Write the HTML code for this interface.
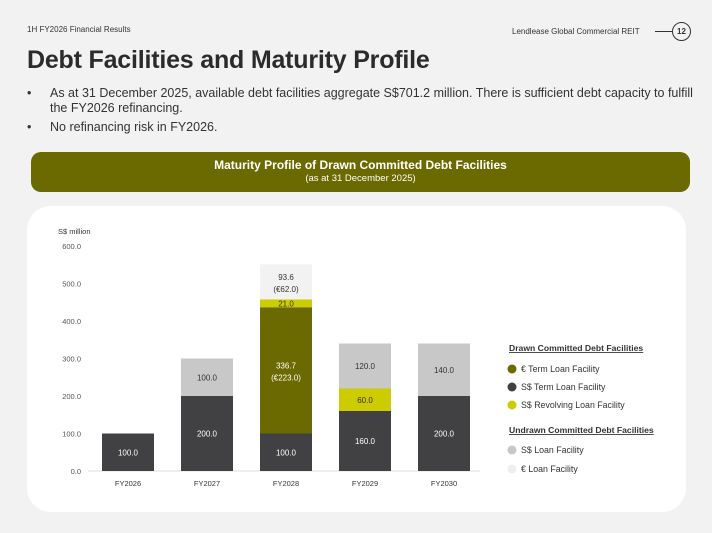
<!DOCTYPE html>
<html><head><meta charset="utf-8"><style>
body{margin:0;width:712px;height:533px;background:#f2f2f2;font-family:"Liberation Sans",sans-serif;position:relative;overflow:hidden;color:#333}
.abs{position:absolute}
</style></head><body>
<div class="abs" style="left:27px;top:25px;font-size:8px;color:#333">1H FY2026 Financial Results</div>
<div class="abs" style="left:512px;top:27px;font-size:8px;color:#333">Lendlease Global Commercial REIT</div>
<div class="abs" style="left:655px;top:31px;width:17px;height:1px;background:#333"></div>
<div class="abs" style="left:672px;top:22px;width:17px;height:17px;border:1px solid #333;border-radius:50%;font-size:8px;font-weight:bold;text-align:center;line-height:17px">12</div>
<div class="abs" style="left:27px;top:46px;font-size:25px;font-weight:bold;color:#2b2b2b;letter-spacing:-0.2px">Debt Facilities and Maturity Profile</div>
<div class="abs" style="left:27px;top:86px;width:670px;font-size:12.5px;line-height:14.5px;color:#333"><span style="position:absolute;left:0">•</span><div style="margin-left:23px">As at 31 December 2025, available debt facilities aggregate S$701.2 million. There is sufficient debt capacity to fulfill the FY2026 refinancing.</div></div>
<div class="abs" style="left:27px;top:120px;font-size:12.5px;color:#333"><span style="position:absolute;left:0">•</span><div style="margin-left:23px">No refinancing risk in FY2026.</div></div>
<div class="abs" style="left:31px;top:152px;width:659px;height:40px;background:#6b6a00;border-radius:10px;color:#fff;text-align:center">
<div style="font-size:12px;font-weight:bold;margin-top:6px">Maturity Profile of Drawn Committed Debt Facilities</div>
<div style="font-size:9.5px;margin-top:1px">(as at 31 December 2025)</div></div>
<div class="abs" style="left:27px;top:206px;width:659px;height:306px;background:#fff;border-radius:24px"></div>
<svg class="abs" style="left:0;top:0" width="712" height="533" id="chart"></svg>
<script>
const categories=["FY2026","FY2027","FY2028","FY2029","FY2030"];
const sgdTerm=[100,200,100,160,200];
const eurTerm=[0,0,336.7,0,0];
const sgdRevolving=[0,0,21,60,0];
const sgdUndrawn=[0,100,0,120,140];
const eurUndrawn=[0,0,93.6,0,0];
const eurTermLabels=["","","(€223.0)","",""];
const eurUndrawnLabels=["","","(€62.0)","",""];
const yTicks=[0,100,200,300,400,500,600];
const NS="http://www.w3.org/2000/svg",svg=document.getElementById('chart');
const y0=471,yTop=246,yMax=600;
function y(v){return y0-(v/yMax)*(y0-yTop);}
function xc(i){return 128+i*79;}
const bw=52;
function el(t,a,txt){const e=document.createElementNS(NS,t);for(const k in a)e.setAttribute(k,a[k]);if(txt!==undefined)e.textContent=txt;svg.appendChild(e);return e;}
let t=el('text',{x:58,y:234,'font-size':7.5,fill:'#333'},'S$ million');

yTicks.forEach(v=>{const e=el('text',{x:81,y:y(v)+3,'font-size':7.5,fill:'#555','text-anchor':'end'},v.toFixed(1));
});
const ax=el('line',{x1:88,x2:480,y1:y0,y2:y0,stroke:'#ddd','stroke-width':1});

const series=[[sgdTerm,'#414042','#fff',null,'sgd-term'],[eurTerm,'#6b6a00','#fff',eurTermLabels,'eur-term'],[sgdRevolving,'#cccc00','#333',null,'sgd-revolving'],[sgdUndrawn,'#c8c8c8','#333',null,'sgd-undrawn'],[eurUndrawn,'#f2f2f2','#333',eurUndrawnLabels,'eur-undrawn']];
categories.forEach((c,i)=>{
 let base=0;
 series.forEach(([vals,col,tc,sub,nm])=>{
  const v=vals[i];if(!v)return;
  const r=el('rect',{x:xc(i)-bw/2,y:y(base+v),width:bw,height:y(base)-y(base+v),fill:col});
  
  
  const mid=(y(base)+y(base+v))/2;
  const two=sub&&sub[i];
  const lb=el('text',{x:xc(i),y:two?mid-2:mid+3,'font-size':8,fill:tc,'text-anchor':'middle'},v.toFixed(1));
  
  if(two){const l2=el('text',{x:xc(i),y:mid+10,'font-size':8,fill:tc,'text-anchor':'middle'},sub[i]);
  }
  base+=v;
 });
 const xl=el('text',{x:xc(i),y:486,'font-size':7.5,fill:'#333','text-anchor':'middle'},c);
 
});
const legend=[['h','Drawn Committed Debt Facilities',348],['#6b6a00','€ Term Loan Facility',369],['#414042','S$ Term Loan Facility',387],['#cccc00','S$ Revolving Loan Facility',405],['h','Undrawn Committed Debt Facilities',430],['#c8c8c8','S$ Loan Facility',450],['#efefef','€ Loan Facility',469]];
legend.forEach(([c,txt,yy])=>{
 if(c==='h'){const h=el('text',{x:509,y:yy+3,'font-size':8.6,'font-weight':'bold',fill:'#333','text-decoration':'underline'},txt);
 }
 else{const m=el('circle',{cx:512,cy:yy,r:4.5,fill:c});
 const lt=el('text',{x:521,y:yy+3,'font-size':8.8,fill:'#333'},txt);}
});
</script>
</body></html>
